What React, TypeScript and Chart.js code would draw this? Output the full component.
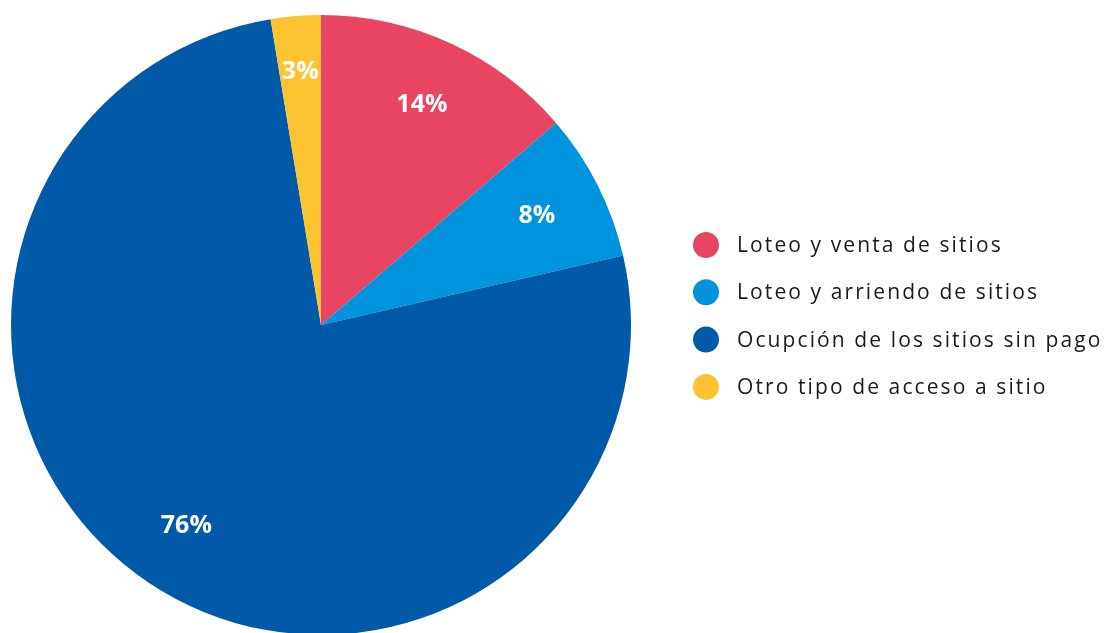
import React, { useEffect, useRef } from "react";
import { Chart, registerables } from "chart.js";

Chart.register(...registerables);

const categories = [
  "Loteo y venta de sitios",
  "Loteo y arriendo de sitios",
  "Ocupción de los sitios sin pago",
  "Otro tipo de acceso a sitio",
];
const values = [13.7, 7.7, 76.0, 2.6];
const colors = ["#E84563", "#0094DC", "#005AA7", "#FEC331"];

const labelPlugin = {
  id: "sliceLabels",
  afterDatasetsDraw(chart: any) {
    const ctx = chart.ctx;
    const meta = chart.getDatasetMeta(0);
    const data = chart.data.datasets[0].data as number[];
    const total = data.reduce((a, b) => a + b, 0);
    ctx.save();
    ctx.fillStyle = "#ffffff";
    ctx.font = "bold 25px 'Open Sans'";
    ctx.textAlign = "center";
    ctx.textBaseline = "middle";
    meta.data.forEach((arc: any, i: number) => {
      const { x, y, startAngle, endAngle, outerRadius } = arc.getProps(
        ["x", "y", "startAngle", "endAngle", "outerRadius"],
        true
      );
      const mid = (startAngle + endAngle) / 2;
      const pct = (data[i] / total) * 100;
      const f = pct < 5 ? 0.82 : 0.78;
      const r = outerRadius * f;
      ctx.fillText(Math.round(pct) + "%", x + Math.cos(mid) * r, y + Math.sin(mid) * r);
    });
    ctx.restore();
  },
};

const legendPlugin = {
  id: "sideLegend",
  afterDraw(chart: any) {
    const ctx = chart.ctx;
    const labels = chart.data.labels as string[];
    const bg = chart.data.datasets[0].backgroundColor as string[];
    const x0 = 706;
    const y0 = 245;
    const step = 47.3;
    ctx.save();
    labels.forEach((lab, i) => {
      const cy = y0 + i * step;
      ctx.beginPath();
      ctx.fillStyle = bg[i];
      ctx.arc(x0, cy, 13, 0, Math.PI * 2);
      ctx.fill();
      ctx.fillStyle = "#1a1a1a";
      ctx.font = "21px 'Open Sans'";
      (ctx as any).letterSpacing = "2.1px";
      ctx.textAlign = "left";
      ctx.textBaseline = "middle";
      ctx.fillText(lab, 737, cy + 1);
    });
    ctx.restore();
  },
};

export default function App() {
  const ref = useRef<HTMLCanvasElement>(null);
  useEffect(() => {
    if (!ref.current) return;
    const chart = new Chart(ref.current, {
      type: "pie",
      data: {
        labels: categories,
        datasets: [
          {
            data: values,
            backgroundColor: colors,
            borderWidth: 0,
          },
        ],
      },
      options: {
        responsive: false,
        animation: false,
        layout: { padding: { left: 11, top: 15, right: 476, bottom: 15 } },
        plugins: {
          legend: { display: false },
          tooltip: { enabled: false },
        },
      },
      plugins: [labelPlugin, legendPlugin],
    });
    return () => chart.destroy();
  }, []);
  return (
    <div style={{ position: "absolute", left: 0, top: 0, width: 1107, height: 633, overflow: "hidden", background: "#fff" }}>
      <canvas ref={ref} width={1107} height={650} style={{ display: "block" }} />
    </div>
  );
}
